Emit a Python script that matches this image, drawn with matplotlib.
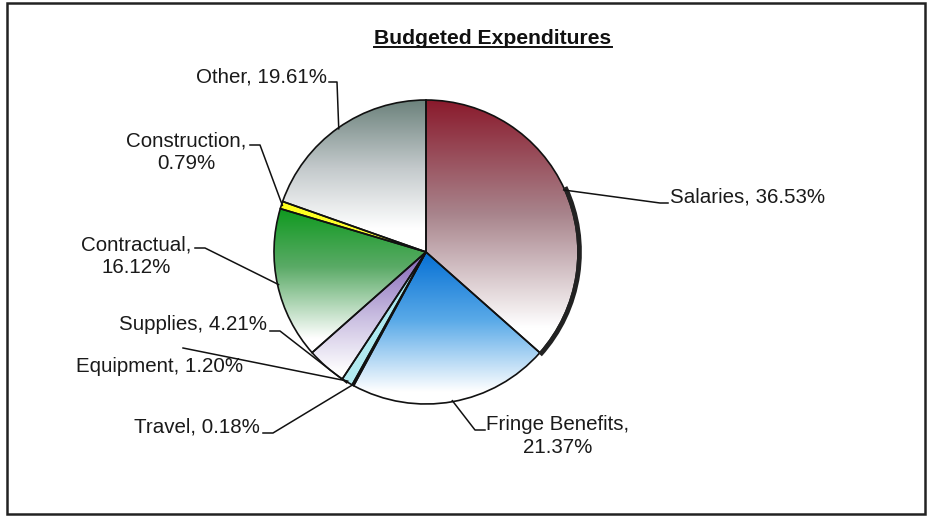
import numpy as np
import matplotlib.pyplot as plt
from matplotlib.colors import LinearSegmentedColormap
from matplotlib.patches import Arc, Rectangle

plt.rcParams["font.family"] = ["Liberation Sans", "DejaVu Sans"]

# data
categories = ["Salaries", "Fringe Benefits", "Travel", "Equipment",
              "Supplies", "Contractual", "Construction", "Other"]
percents = [36.53, 21.37, 0.18, 1.20, 4.21, 16.12, 0.79, 19.61]
labels = ["Salaries, 36.53%", "Fringe Benefits,\n21.37%", "Travel, 0.18%",
          "Equipment, 1.20%", "Supplies, 4.21%", "Contractual,\n16.12%",
          "Construction,\n0.79%", "Other, 19.61%"]

# gradient stops per slice, top of slice -> bottom
grad_stops = [
    [(0, "#8a1a2c"), (0.45, "#a8848c"), (0.9, "#ffffff"), (1, "#ffffff")],
    [(0, "#0670d4"), (0.45, "#5aaae8"), (0.92, "#ffffff"), (1, "#ffffff")],
    [(0, "#c8f2f4"), (1, "#d8f6f8")],
    [(0, "#a6e6ee"), (1, "#b4ecf2")],
    [(0, "#8264b6"), (0.5, "#c8bce0"), (0.95, "#ffffff"), (1, "#ffffff")],
    [(0, "#109a20"), (0.4, "#5aaa66"), (0.9, "#ffffff"), (1, "#ffffff")],
    [(0, "#ffff1a"), (1, "#ffff40")],
    [(0, "#6c827c"), (0.45, "#c4cacc"), (0.85, "#ffffff"), (1, "#ffffff")],
]

W, H = 936, 516


def py(y):
    # pixel row -> data y (origin bottom)
    return H - y


fig = plt.figure(figsize=(9.36, 5.16), dpi=100)
ax = fig.add_axes([0, 0, 1, 1])

cx, cy, R = 426, py(252), 152
wedges, _ = ax.pie(percents, startangle=90, counterclock=False,
                   center=(cx, cy), radius=R, colors=["white"] * 8,
                   wedgeprops=dict(edgecolor="#111111", linewidth=1.2),
                   frame=True)
ax.set_xlim(0, W)
ax.set_ylim(0, H)
ax.set_aspect("equal")
ax.axis("off")

for w, stops in zip(wedges, grad_stops):
    ext = w.get_path().get_extents()
    cmap = LinearSegmentedColormap.from_list("g", stops)
    grad = np.linspace(0, 1, 256).reshape(-1, 1)
    im = ax.imshow(grad, cmap=cmap, vmin=0, vmax=1, aspect="auto",
                   origin="upper", interpolation="bilinear",
                   extent=(ext.x0, ext.x1, ext.y0, ext.y1), zorder=1)
    im.set_clip_path(w)
    w.set_facecolor("none")
    w.set_zorder(3)

# dark rim on the right of Salaries
ax.add_patch(Arc((cx, cy), 2 * R + 3, 2 * R + 3, theta1=-42, theta2=25,
                 color="#222222", lw=3.4, zorder=4))


def mid_pt(i, r=R):
    w = wedges[i]
    a = np.deg2rad((w.theta1 + w.theta2) / 2)
    return cx + r * np.cos(a), cy + r * np.sin(a)


txt = dict(fontsize=14.8, color="#1a1a1a", zorder=5)

# leader lines: pixel layout of label and elbow, anchor on slice
layout = {
    0: dict(xy=(670, 197), ha="left", path=[(668, 203), (660, 203)]),
    1: dict(xy=(558, 436), ha="center", path=[(485, 430), (475, 430)]),
    2: dict(xy=(260, 427), ha="right", path=[(263, 433), (273, 433)]),
    3: dict(xy=(243, 367), ha="right", path=[(183, 348)]),
    4: dict(xy=(267, 325), ha="right", path=[(270, 331), (280, 331)]),
    5: dict(xy=(136, 256), ha="center", path=[(195, 248), (205, 248)]),
    6: dict(xy=(186, 152), ha="center", path=[(250, 145), (260, 145)]),
    7: dict(xy=(327, 77), ha="right", path=[(329, 82), (337, 82)]),
}

for i, lab in enumerate(labels):
    L = layout[i]
    ax.text(L["xy"][0], py(L["xy"][1]), lab, ha=L["ha"], va="center",
            multialignment="center", linespacing=1.22, **txt)
    if i == 4:
        end = mid_pt(3, R + 1)
    else:
        end = mid_pt(i, R - 1)
    xs = [p[0] for p in L["path"]] + [end[0]]
    ys = [py(p[1]) for p in L["path"]] + [end[1]]
    ax.plot(xs, ys, color="#111111", lw=1.1, zorder=5)

# title with underline
t = ax.text(493, py(38), "Budgeted Expenditures", ha="center", va="center",
            fontsize=15.2, fontweight="bold", color="#111111")
fig.canvas.draw()
bb = t.get_window_extent().transformed(ax.transData.inverted())
ax.plot([bb.x0, bb.x1], [bb.y0 + 1, bb.y0 + 1], color="#111111", lw=1.4)

# outer frame
ax.add_patch(Rectangle((7, py(514)), 918, 511, fill=False,
                       edgecolor="#222222", lw=1.8, zorder=6))

fig.savefig("out.png", dpi=100)
